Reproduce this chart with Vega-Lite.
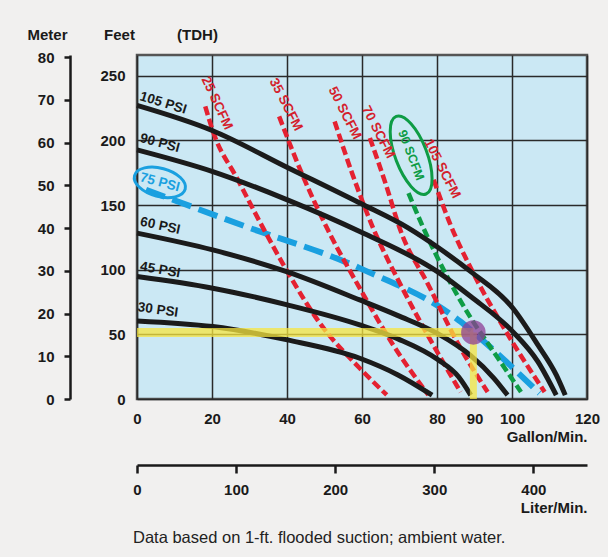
{
  "$schema": "https://vega.github.io/schema/vega-lite/v6.json",
  "width": 450,
  "height": 344,
  "autosize": {"type": "none"},
  "padding": {"left": 137, "top": 55, "right": 21, "bottom": 158},
  "background": "#f1f0ef",
  "title": {
    "text": "Data based on 1-ft. flooded suction; ambient water.",
    "orient": "bottom",
    "anchor": "start",
    "dx": 106,
    "offset": 15,
    "fontSize": 16.5,
    "fontWeight": "normal",
    "color": "#222222",
    "font": "Liberation Sans"
  },
  "config": {
    "font": "Liberation Sans",
    "view": {"fill": "#cbe8f4", "stroke": "#555555", "strokeWidth": 2.5},
    "axis": {"labelFontSize": 15, "labelFontWeight": "bold", "labelColor": "#1a1a1a", "titleFontSize": 15, "titleFontWeight": "bold", "titleColor": "#1a1a1a"}
  },
  "datasets": {
    "curves": [
      {"name": "105 PSI", "kind": "psi", "gpm": 0, "ft": 227},
      {"name": "105 PSI", "kind": "psi", "gpm": 20.2, "ft": 207.4},
      {"name": "105 PSI", "kind": "psi", "gpm": 40.1, "ft": 179},
      {"name": "105 PSI", "kind": "psi", "gpm": 59.4, "ft": 151.5},
      {"name": "105 PSI", "kind": "psi", "gpm": 72.4, "ft": 132.1},
      {"name": "105 PSI", "kind": "psi", "gpm": 80.1, "ft": 117.5},
      {"name": "105 PSI", "kind": "psi", "gpm": 89, "ft": 98.5},
      {"name": "105 PSI", "kind": "psi", "gpm": 100.2, "ft": 70.4},
      {"name": "105 PSI", "kind": "psi", "gpm": 106.9, "ft": 41.8},
      {"name": "105 PSI", "kind": "psi", "gpm": 111.8, "ft": 18.6},
      {"name": "105 PSI", "kind": "psi", "gpm": 114.2, "ft": 3},
      {"name": "90 PSI", "kind": "psi", "gpm": 0, "ft": 192.7},
      {"name": "90 PSI", "kind": "psi", "gpm": 20.2, "ft": 175.9},
      {"name": "90 PSI", "kind": "psi", "gpm": 40.1, "ft": 154},
      {"name": "90 PSI", "kind": "psi", "gpm": 59.4, "ft": 129.5},
      {"name": "90 PSI", "kind": "psi", "gpm": 80.2, "ft": 98.3},
      {"name": "90 PSI", "kind": "psi", "gpm": 89, "ft": 79.2},
      {"name": "90 PSI", "kind": "psi", "gpm": 100.2, "ft": 52.1},
      {"name": "90 PSI", "kind": "psi", "gpm": 106.9, "ft": 28.9},
      {"name": "90 PSI", "kind": "psi", "gpm": 111.8, "ft": 3},
      {"name": "60 PSI", "kind": "psi", "gpm": 0, "ft": 128.3},
      {"name": "60 PSI", "kind": "psi", "gpm": 20.2, "ft": 115.3},
      {"name": "60 PSI", "kind": "psi", "gpm": 40.1, "ft": 98.3},
      {"name": "60 PSI", "kind": "psi", "gpm": 59.4, "ft": 76.6},
      {"name": "60 PSI", "kind": "psi", "gpm": 69.6, "ft": 64.5},
      {"name": "60 PSI", "kind": "psi", "gpm": 80.2, "ft": 50.5},
      {"name": "60 PSI", "kind": "psi", "gpm": 89, "ft": 33.5},
      {"name": "60 PSI", "kind": "psi", "gpm": 95.2, "ft": 16},
      {"name": "60 PSI", "kind": "psi", "gpm": 98.8, "ft": 3},
      {"name": "45 PSI", "kind": "psi", "gpm": 0, "ft": 94.7},
      {"name": "45 PSI", "kind": "psi", "gpm": 20.2, "ft": 85.7},
      {"name": "45 PSI", "kind": "psi", "gpm": 40.1, "ft": 72.8},
      {"name": "45 PSI", "kind": "psi", "gpm": 59.4, "ft": 57.3},
      {"name": "45 PSI", "kind": "psi", "gpm": 69.6, "ft": 46.5},
      {"name": "45 PSI", "kind": "psi", "gpm": 80.2, "ft": 30.5},
      {"name": "45 PSI", "kind": "psi", "gpm": 85.8, "ft": 17},
      {"name": "45 PSI", "kind": "psi", "gpm": 89, "ft": 3},
      {"name": "30 PSI", "kind": "psi", "gpm": 0, "ft": 60.4},
      {"name": "30 PSI", "kind": "psi", "gpm": 20.2, "ft": 56},
      {"name": "30 PSI", "kind": "psi", "gpm": 40.1, "ft": 45.7},
      {"name": "30 PSI", "kind": "psi", "gpm": 59.4, "ft": 31.5},
      {"name": "30 PSI", "kind": "psi", "gpm": 69.6, "ft": 18.6},
      {"name": "30 PSI", "kind": "psi", "gpm": 78.7, "ft": 3},
      {"name": "75 PSI", "kind": "psi75", "gpm": 2.4, "ft": 161.8},
      {"name": "75 PSI", "kind": "psi75", "gpm": 27.7, "ft": 134.7},
      {"name": "75 PSI", "kind": "psi75", "gpm": 59.4, "ft": 101.2},
      {"name": "75 PSI", "kind": "psi75", "gpm": 86.3, "ft": 59.8},
      {"name": "75 PSI", "kind": "psi75", "gpm": 92.6, "ft": 44.3},
      {"name": "75 PSI", "kind": "psi75", "gpm": 107.3, "ft": 4.4},
      {"name": "25 SCFM", "kind": "scfm", "gpm": 18.2, "ft": 226.2},
      {"name": "25 SCFM", "kind": "scfm", "gpm": 20.2, "ft": 207.4},
      {"name": "25 SCFM", "kind": "scfm", "gpm": 26.9, "ft": 169.5},
      {"name": "25 SCFM", "kind": "scfm", "gpm": 33.9, "ft": 130.8},
      {"name": "25 SCFM", "kind": "scfm", "gpm": 40.1, "ft": 98.5},
      {"name": "25 SCFM", "kind": "scfm", "gpm": 49.1, "ft": 57.3},
      {"name": "25 SCFM", "kind": "scfm", "gpm": 59.4, "ft": 23.8},
      {"name": "25 SCFM", "kind": "scfm", "gpm": 66.6, "ft": 3.1},
      {"name": "35 SCFM", "kind": "scfm", "gpm": 37.9, "ft": 218.5},
      {"name": "35 SCFM", "kind": "scfm", "gpm": 44.1, "ft": 173.4},
      {"name": "35 SCFM", "kind": "scfm", "gpm": 50.9, "ft": 130.8},
      {"name": "35 SCFM", "kind": "scfm", "gpm": 59.4, "ft": 85.7},
      {"name": "35 SCFM", "kind": "scfm", "gpm": 68.3, "ft": 41.8},
      {"name": "35 SCFM", "kind": "scfm", "gpm": 77.7, "ft": 3.1},
      {"name": "50 SCFM", "kind": "scfm", "gpm": 52.7, "ft": 214.6},
      {"name": "50 SCFM", "kind": "scfm", "gpm": 57.5, "ft": 173.4},
      {"name": "50 SCFM", "kind": "scfm", "gpm": 62.6, "ft": 134.7},
      {"name": "50 SCFM", "kind": "scfm", "gpm": 71, "ft": 84.4},
      {"name": "50 SCFM", "kind": "scfm", "gpm": 79, "ft": 41.8},
      {"name": "50 SCFM", "kind": "scfm", "gpm": 86.3, "ft": 5.4},
      {"name": "70 SCFM", "kind": "scfm", "gpm": 62.1, "ft": 201.8},
      {"name": "70 SCFM", "kind": "scfm", "gpm": 66.4, "ft": 165.6},
      {"name": "70 SCFM", "kind": "scfm", "gpm": 70.2, "ft": 130.8},
      {"name": "70 SCFM", "kind": "scfm", "gpm": 77.7, "ft": 88.2},
      {"name": "70 SCFM", "kind": "scfm", "gpm": 85.8, "ft": 41.8},
      {"name": "70 SCFM", "kind": "scfm", "gpm": 93.5, "ft": 5.4},
      {"name": "105 SCFM", "kind": "scfm", "gpm": 79.1, "ft": 169.5},
      {"name": "105 SCFM", "kind": "scfm", "gpm": 83.6, "ft": 134.7},
      {"name": "105 SCFM", "kind": "scfm", "gpm": 89, "ft": 101.2},
      {"name": "105 SCFM", "kind": "scfm", "gpm": 97.9, "ft": 54.7},
      {"name": "105 SCFM", "kind": "scfm", "gpm": 108.7, "ft": 5.4},
      {"name": "90 SCFM", "kind": "scfm90", "gpm": 72.4, "ft": 159.2},
      {"name": "90 SCFM", "kind": "scfm90", "gpm": 76, "ft": 134.7},
      {"name": "90 SCFM", "kind": "scfm90", "gpm": 83.6, "ft": 89.8},
      {"name": "90 SCFM", "kind": "scfm90", "gpm": 89, "ft": 62.7},
      {"name": "90 SCFM", "kind": "scfm90", "gpm": 94.4, "ft": 39.5},
      {"name": "90 SCFM", "kind": "scfm90", "gpm": 102.4, "ft": 5.4}
    ],
    "operating": [
      {"gpm": 89.7, "ft": 51.5, "gpm0": 0, "ft0": 0}
    ],
    "labels": [
      {"text": "105 PSI", "gpm": 7.0, "ft": 228.8},
      {"text": "90 PSI", "gpm": 6.1, "ft": 197.9},
      {"text": "75 PSI", "gpm": 6.1, "ft": 167.5},
      {"text": "60 PSI", "gpm": 6.2, "ft": 133.9},
      {"text": "45 PSI", "gpm": 6.2, "ft": 99.8},
      {"text": "30 PSI", "gpm": 5.6, "ft": 68.9},
      {"text": "25 SCFM", "gpm": 21.3, "ft": 228.8},
      {"text": "35 SCFM", "gpm": 39.7, "ft": 227.6},
      {"text": "50 SCFM", "gpm": 55.4, "ft": 221.1},
      {"text": "70 SCFM", "gpm": 64.3, "ft": 206.4},
      {"text": "90 SCFM", "gpm": 73.1, "ft": 188.5},
      {"text": "105 SCFM", "gpm": 81.4, "ft": 178.0}
    ],
    "scales": [{"liters": 0, "meters": 0}]
  },
  "layer": [
    {
      "encoding": {
        "x": {
          "field": "gpm", "type": "quantitative",
          "scale": {"domain": [0, 120], "nice": false, "zero": false},
          "axis": {
            "values": [0, 20, 40, 60, 80, 90, 100, 120],
            "title": "Gallon/Min.", "titleAnchor": "end", "titleAlign": "right", "titlePadding": 3,
            "ticks": false, "tickSize": 0, "domain": false, "labelPadding": 12, "labelFlush": false,
            "grid": true, "gridColor": "#2a2a2a", "gridWidth": 1.5,
            "gridOpacity": {"condition": {"test": "datum.value === 90", "value": 0}, "value": 1}
          }
        },
        "y": {
          "field": "ft", "type": "quantitative",
          "scale": {"domain": [0, 266], "nice": false, "zero": false},
          "axis": {
            "values": [0, 50, 100, 150, 200, 250],
            "title": "Feet", "titleAngle": 0, "titleX": -18, "titleY": -21, "titleAlign": "center", "titleBaseline": "middle",
            "ticks": false, "tickSize": 0, "domain": false, "labelPadding": 12,
            "grid": true, "gridColor": "#2a2a2a", "gridWidth": 1.5
          }
        }
      },
      "layer": [
        {
          "data": {"name": "curves"},
          "transform": [{"filter": "datum.kind === 'psi75'"}],
          "mark": {"type": "line", "color": "#1aa0e0", "strokeWidth": 6, "strokeDash": [20, 8], "interpolate": "monotone"},
          "encoding": {"detail": {"field": "name"}}
        },
        {
          "data": {"name": "curves"},
          "transform": [{"filter": "datum.kind === 'scfm'"}],
          "mark": {"type": "line", "color": "#e42131", "strokeWidth": 4.5, "strokeDash": [9, 4], "interpolate": "monotone"},
          "encoding": {"detail": {"field": "name"}}
        },
        {
          "data": {"name": "curves"},
          "transform": [{"filter": "datum.kind === 'scfm90'"}],
          "mark": {"type": "line", "color": "#0e9c45", "strokeWidth": 4.5, "strokeDash": [9, 4], "interpolate": "monotone"},
          "encoding": {"detail": {"field": "name"}}
        },
        {
          "data": {"name": "curves"},
          "transform": [{"filter": "datum.kind === 'psi'"}],
          "mark": {"type": "line", "color": "#1b1b1b", "strokeWidth": 5, "interpolate": "monotone"},
          "encoding": {"detail": {"field": "name"}}
        },
        {
          "data": {"name": "operating"},
          "mark": {"type": "rule", "color": "#f7e640", "opacity": 0.75, "strokeWidth": 9},
          "encoding": {"x": {"field": "gpm0"}, "x2": {"field": "gpm"}}
        },
        {
          "data": {"name": "operating"},
          "mark": {"type": "rule", "color": "#f7e640", "opacity": 0.75, "strokeWidth": 7},
          "encoding": {"y": {"field": "ft0"}, "y2": {"field": "ft"}}
        },
        {
          "data": {"name": "operating"},
          "mark": {"type": "point", "filled": true, "fill": "#8e3f96", "opacity": 0.75, "size": 600, "strokeWidth": 0},
          "encoding": {}
        },
        {
          "data": {"name": "labels"},
          "transform": [{"filter": "datum.text === '75 PSI'"}],
          "mark": {"type": "point", "shape": "M -1 0 A 1 0.54 0 1 1 1 0 A 1 0.54 0 1 1 -1 0 Z", "filled": false, "stroke": "#1aa0e0", "strokeWidth": 3, "size": 2750, "angle": 15, "opacity": 1},
          "encoding": {}
        },
        {
          "data": {"name": "labels"},
          "transform": [{"filter": "datum.text === '90 SCFM'"}],
          "mark": {"type": "point", "shape": "M -1 0 A 1 0.38 0 1 1 1 0 A 1 0.38 0 1 1 -1 0 Z", "filled": false, "stroke": "#0e9c45", "strokeWidth": 3, "size": 6900, "angle": 69, "opacity": 1},
          "encoding": {}
        },
        {
          "data": {"name": "labels"},
          "transform": [{"filter": "datum.text === '105 PSI'"}],
          "mark": {"type": "text", "angle": 17, "fontSize": 13.5, "fontWeight": "bold", "color": "#1a1a1a"},
          "encoding": {"text": {"field": "text"}}
        },
        {
          "data": {"name": "labels"},
          "transform": [{"filter": "datum.text === '90 PSI'"}],
          "mark": {"type": "text", "angle": 15, "fontSize": 13.5, "fontWeight": "bold", "color": "#1a1a1a"},
          "encoding": {"text": {"field": "text"}}
        },
        {
          "data": {"name": "labels"},
          "transform": [{"filter": "datum.text === '75 PSI'"}],
          "mark": {"type": "text", "angle": 15, "fontSize": 13.5, "fontWeight": "bold", "color": "#1aa0e0"},
          "encoding": {"text": {"field": "text"}}
        },
        {
          "data": {"name": "labels"},
          "transform": [{"filter": "datum.text === '60 PSI'"}],
          "mark": {"type": "text", "angle": 12, "fontSize": 13.5, "fontWeight": "bold", "color": "#1a1a1a"},
          "encoding": {"text": {"field": "text"}}
        },
        {
          "data": {"name": "labels"},
          "transform": [{"filter": "datum.text === '45 PSI'"}],
          "mark": {"type": "text", "angle": 10, "fontSize": 13.5, "fontWeight": "bold", "color": "#1a1a1a"},
          "encoding": {"text": {"field": "text"}}
        },
        {
          "data": {"name": "labels"},
          "transform": [{"filter": "datum.text === '30 PSI'"}],
          "mark": {"type": "text", "angle": 8, "fontSize": 13.5, "fontWeight": "bold", "color": "#1a1a1a"},
          "encoding": {"text": {"field": "text"}}
        },
        {
          "data": {"name": "labels"},
          "transform": [{"filter": "datum.text === '25 SCFM'"}],
          "mark": {"type": "text", "angle": 65, "fontSize": 13.5, "fontWeight": "bold", "color": "#d41f2d"},
          "encoding": {"text": {"field": "text"}}
        },
        {
          "data": {"name": "labels"},
          "transform": [{"filter": "datum.text === '35 SCFM' || datum.text === '50 SCFM' || datum.text === '70 SCFM' || datum.text === '105 SCFM'"}],
          "mark": {"type": "text", "angle": 63, "fontSize": 13.5, "fontWeight": "bold", "color": "#d41f2d"},
          "encoding": {"text": {"field": "text"}}
        },
        {
          "data": {"name": "labels"},
          "transform": [{"filter": "datum.text === '90 SCFM'"}],
          "mark": {"type": "text", "angle": 69, "fontSize": 12.5, "fontWeight": "bold", "color": "#0e9c45"},
          "encoding": {"text": {"field": "text"}}
        }
      ]
    },
    {
      "data": {"name": "scales"},
      "mark": {"type": "point", "opacity": 0},
      "encoding": {
        "x": {
          "field": "liters", "type": "quantitative",
          "scale": {"domain": [0, 454.2], "nice": false, "zero": false},
          "axis": {
            "orient": "bottom", "offset": 66, "values": [0, 100, 200, 300, 400],
            "title": "Liter/Min.", "titleAnchor": "end", "titleAlign": "right", "titlePadding": 3,
            "domain": true, "domainColor": "#1a1a1a", "domainWidth": 2.5,
            "ticks": true, "tickSize": 8, "tickWidth": 2.5, "tickColor": "#1a1a1a",
            "labelPadding": 9, "labelFlush": false, "grid": false
          }
        },
        "y": {
          "field": "meters", "type": "quantitative",
          "scale": {"domain": [0, 80.5], "nice": false, "zero": false},
          "axis": {
            "orient": "left", "offset": 67, "values": [0, 10, 20, 30, 40, 50, 60, 70, 80],
            "title": "Meter", "titleAngle": 0, "titleX": -23, "titleY": -21, "titleAlign": "center", "titleBaseline": "middle",
            "domain": true, "domainColor": "#1a1a1a", "domainWidth": 2.5,
            "ticks": true, "tickSize": 6, "tickWidth": 2.5, "tickColor": "#1a1a1a",
            "labelPadding": 10, "grid": false
          }
        }
      }
    },
    {
      "data": {"name": "scales"},
      "mark": {"type": "point", "opacity": 0},
      "encoding": {
        "x": {
          "field": "meters", "type": "quantitative",
          "scale": {"domain": [0, 1]},
          "axis": {
            "orient": "top", "title": "(TDH)", "titleX": 60, "titleY": -21, "titleAlign": "center", "titleBaseline": "middle",
            "domain": false, "ticks": false, "labels": false, "grid": false
          }
        }
      }
    }
  ],
  "resolve": {
    "scale": {"x": "independent", "y": "independent"},
    "axis": {"x": "independent", "y": "independent"}
  }
}
